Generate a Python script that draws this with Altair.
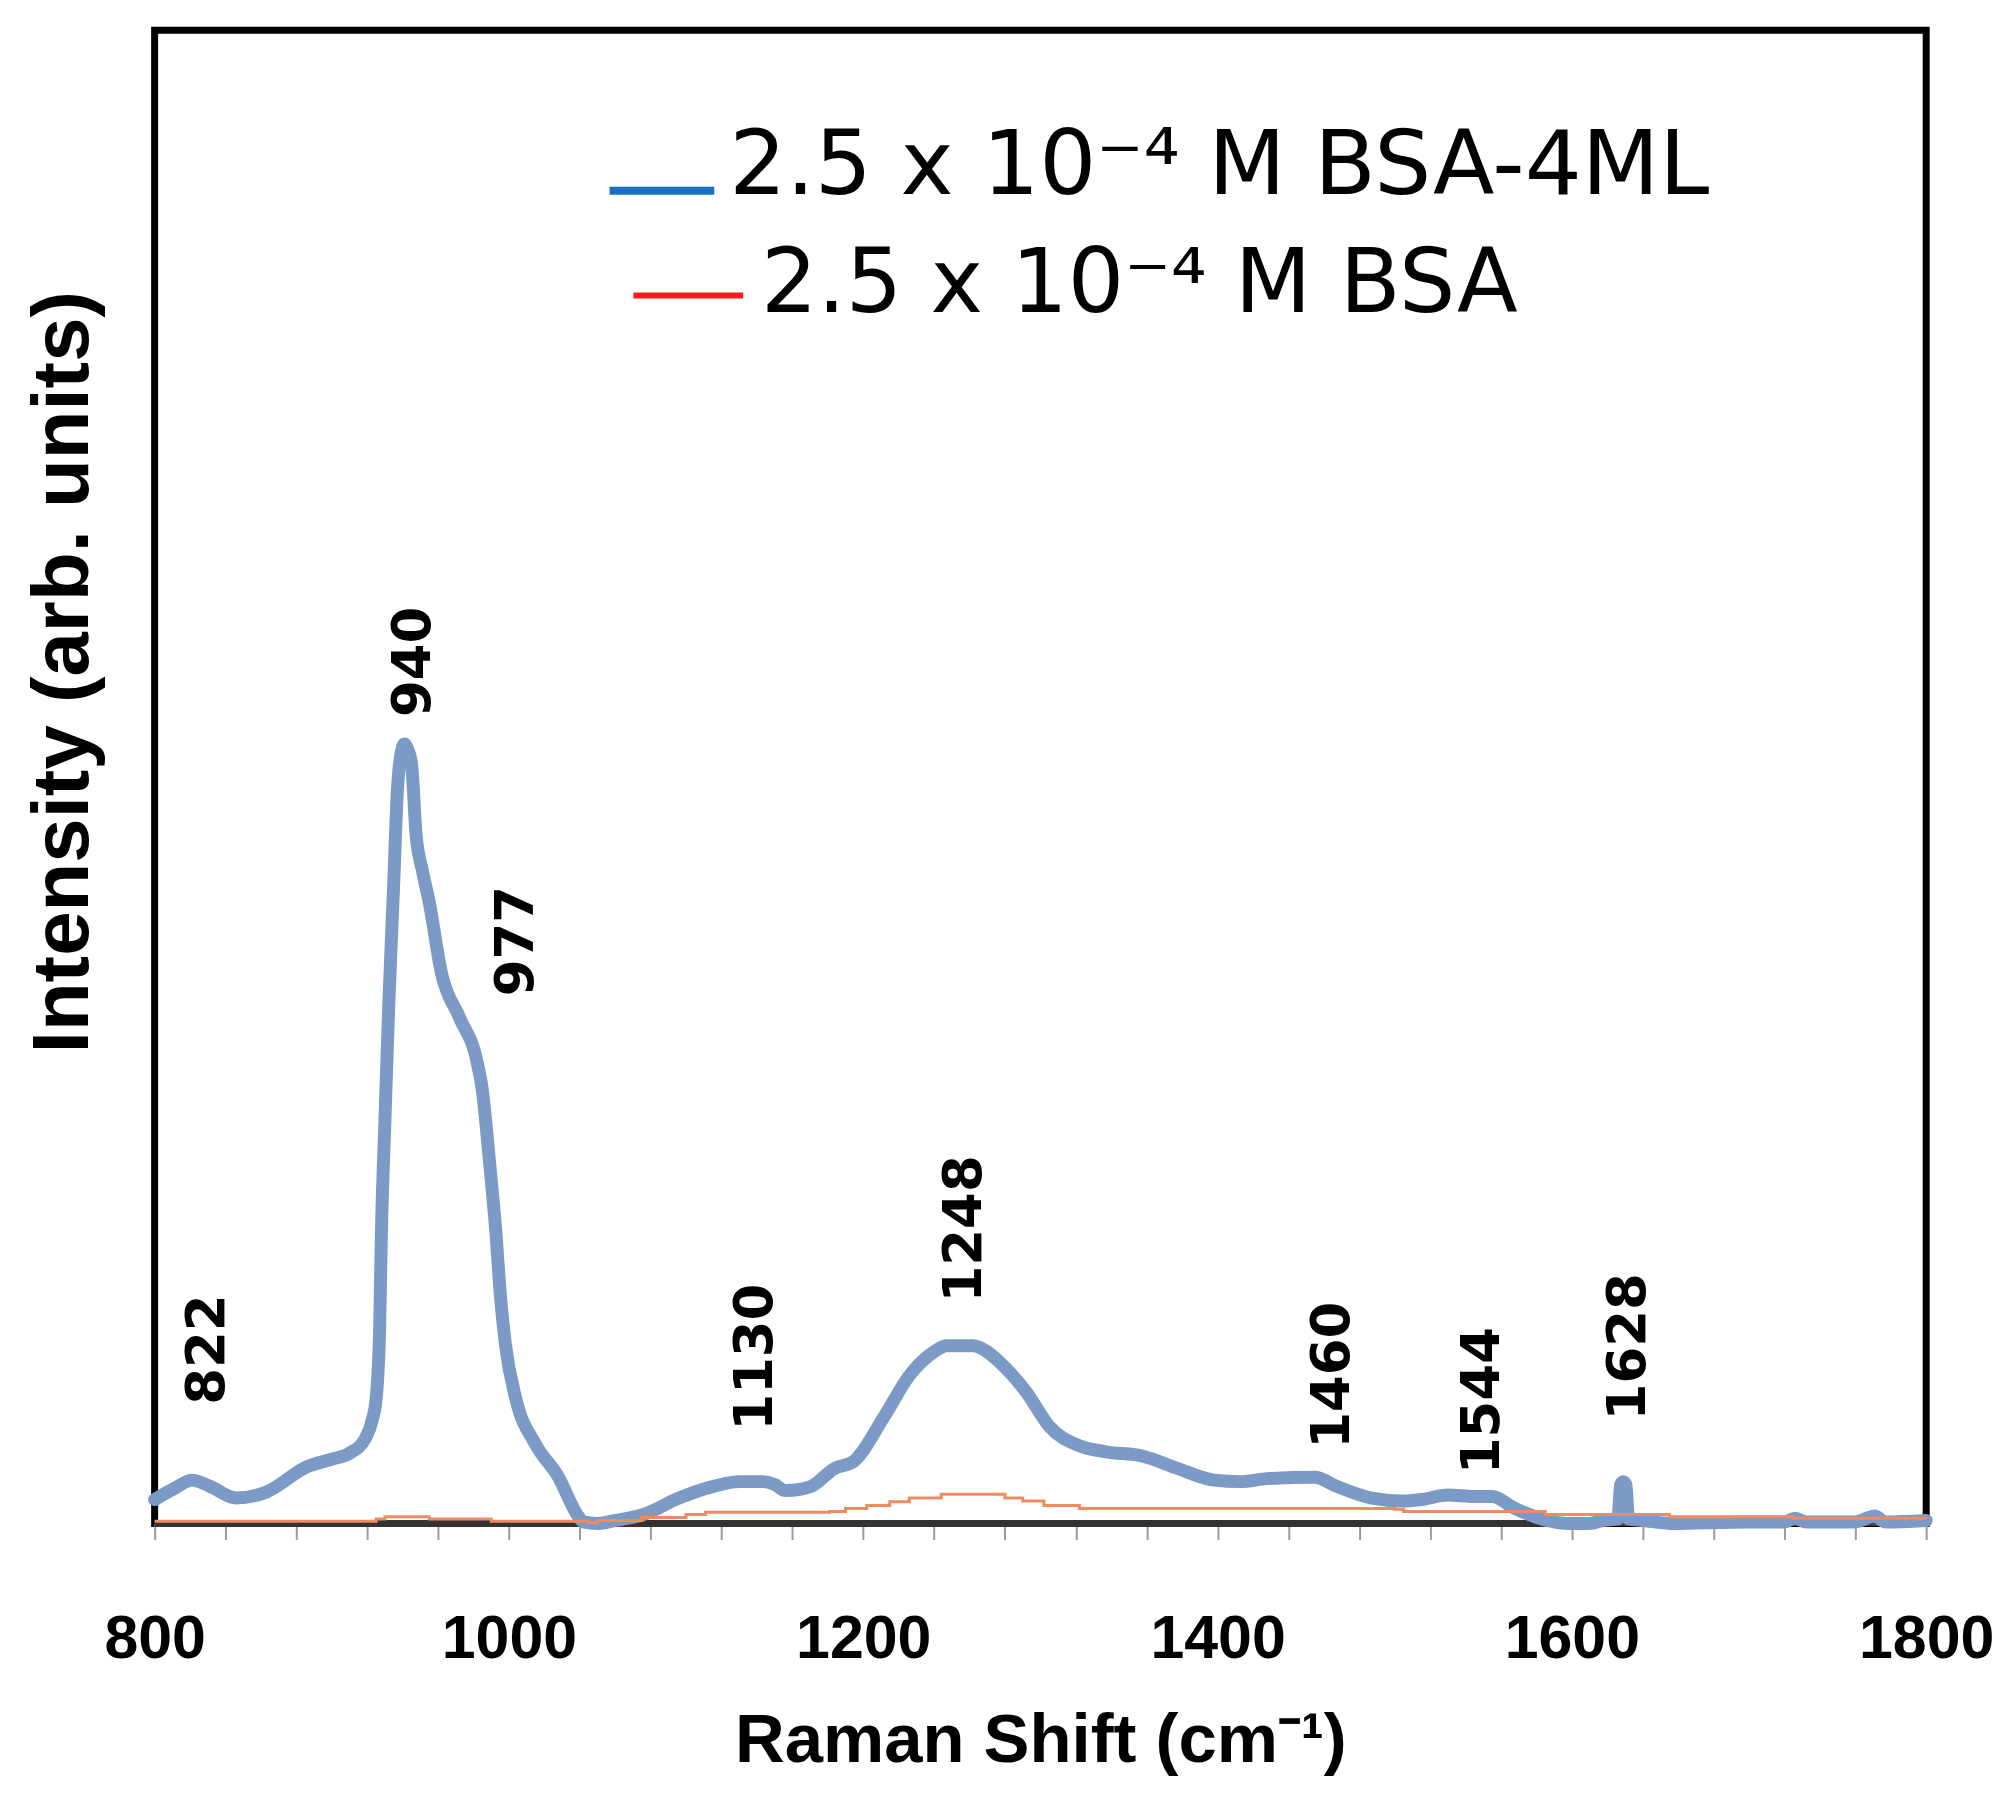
import altair as alt
import pandas as pd

# ---- data ----
blue_x = [800, 812, 821, 831, 846, 863, 886, 900, 910, 919, 923, 925, 927, 928, 930, 932, 935, 937, 939, 941,
          943, 945, 947.6, 951, 955, 962, 972, 982, 985, 987, 990, 992.7, 995, 998, 1004, 1015, 1028, 1039,
          1042, 1050, 1060, 1076, 1096, 1116, 1130, 1143, 1150, 1156, 1165, 1171, 1184, 1194, 1212, 1226,
          1240, 1247, 1262, 1270, 1277, 1292, 1305, 1322, 1337, 1358, 1377, 1398, 1413, 1428, 1455, 1467,
          1487, 1505, 1515, 1530, 1545, 1555, 1568, 1583, 1598, 1610, 1618, 1626, 1627.5, 1629, 1630.5,
          1632, 1640, 1656, 1700, 1720, 1726, 1732, 1760, 1771, 1777, 1800]
blue_y = [1.6, 2.4, 2.9, 2.5, 1.7, 2.1, 3.8, 4.3, 4.7, 5.7, 7.0, 8.3, 13, 19.4, 27, 34.2, 43, 49, 51.5, 52.2,
          51.8, 50.9, 46.1, 43.8, 41.6, 36.8, 33.9, 30.9, 29, 26.8, 23, 19.4, 15.5, 12.0, 8.3, 5.3, 3.1, 0.5,
          0.1, 0.0, 0.2, 0.6, 1.7, 2.5, 2.8, 2.8, 2.6, 2.2, 2.3, 2.5, 3.7, 4.1, 7.2, 9.9,
          11.5, 11.9, 11.9, 11.5, 10.8, 8.8, 6.5, 5.2, 4.8, 4.5, 3.7, 2.9, 2.8, 3.0, 3.1, 2.5,
          1.7, 1.5, 1.6, 1.9, 1.8, 1.8, 1.0, 0.3, 0.0, 0.0, 0.2, 0.3, 2.6, 2.8, 2.6,
          0.3, 0.2, 0.0, 0.1, 0.1, 0.35, 0.1, 0.1, 0.5, 0.1, 0.2]

orange_x = [800, 918, 925, 930, 950, 955, 985, 990, 1040, 1045, 1050, 1075, 1100, 1111, 1181, 1190, 1202,
            1215, 1226, 1244, 1267, 1280, 1290, 1302, 1322, 1500, 1505, 1580, 1585, 1650, 1655, 1720, 1725, 1800]
orange_y = [0.15, 0.15, 0.3, 0.45, 0.45, 0.3, 0.3, 0.15, 0.15, 0.05, 0.2, 0.4, 0.6, 0.75, 0.8, 1.0, 1.2,
            1.45, 1.7, 1.95, 1.95, 1.7, 1.5, 1.2, 1.0, 0.95, 0.8, 0.8, 0.6, 0.6, 0.45, 0.45, 0.35, 0.3]

base_x = [800, 1590]
base_y = [0, 0]

peak_labels = ["822", "940", "977", "1130", "1248", "1460", "1544", "1628"]
peak_label_x = [829.9, 946.5, 1004.5, 1139.7, 1257.5, 1465.4, 1549.9, 1632]
peak_label_y = [7.95, 54.0, 35.3, 6.2, 14.8, 5.0, 3.3, 6.9]

legend_labels = ["2.5 x 10\u207b\u2074 M BSA-4ML", "2.5 x 10\u207b\u2074 M BSA"]

x_ticks = list(range(800, 1801, 40))

# ---- chart ----
df_blue = pd.DataFrame({"x": blue_x, "y": blue_y})
df_orange = pd.DataFrame({"x": orange_x, "y": orange_y})
df_base = pd.DataFrame({"x": base_x, "y": base_y})
df_peaks = pd.DataFrame({"x": peak_label_x, "y": peak_label_y, "t": peak_labels})

xscale = alt.Scale(domain=[800, 1800], nice=False, zero=False)
yscale = alt.Scale(domain=[0, 100], nice=False)

xaxis = alt.Axis(
    values=x_ticks,
    labelExpr="datum.value % 200 === 0 ? datum.label : ''",
    format="d",
    labelFont="Liberation Sans",
    labelFontSize=61,
    labelFontWeight="bold",
    labelColor="black",
    labelBaseline="alphabetic",
    labelPadding=118,
    labelFlush=False,
    labelOverlap=False,
    tickColor="#9a9a9a",
    tickWidth=2,
    tickSize=16,
    domainColor="#444444",
    domainWidth=4,
    grid=False,
    title="Raman Shift (cm\u207b\u00b9)",
    titleFont="Liberation Sans",
    titleFontSize=69,
    titleFontWeight="bold",
    titleColor="black",
    titleY=239,
    titleBaseline="alphabetic",
)

yaxis = alt.Axis(
    labels=False, ticks=False, domain=False, grid=False,
    title="Intensity (arb. units)",
    titleFont="Liberation Sans",
    titleFontSize=80,
    titleFontWeight="bold",
    titleColor="black",
    titleAngle=270,
    titleX=-91,
    titleY=643,
    titleAlign="center",
    titleBaseline="middle",
)

base = alt.Chart(df_base).mark_line(color="#333333", strokeWidth=7).encode(
    x=alt.X("x:Q", scale=xscale, axis=xaxis),
    y=alt.Y("y:Q", scale=yscale, axis=yaxis),
)

blue = alt.Chart(df_blue).mark_line(color="#7b9bc6", strokeWidth=13, strokeJoin="round", strokeCap="round",
                                    interpolate="monotone").encode(
    x=alt.X("x:Q", scale=xscale),
    y=alt.Y("y:Q", scale=yscale),
)

orange = alt.Chart(df_orange).mark_line(color="#ef8b63", strokeWidth=3, interpolate="step-after").encode(
    x=alt.X("x:Q", scale=xscale),
    y=alt.Y("y:Q", scale=yscale),
)

peaks = alt.Chart(df_peaks).mark_text(
    font="DejaVu Sans", fontSize=53, fontWeight="bold", color="black",
    angle=270, align="left", baseline="middle",
).encode(
    x=alt.X("x:Q", scale=xscale),
    y=alt.Y("y:Q", scale=yscale),
    text="t:N",
)

leg_rule1 = alt.Chart(pd.DataFrame({"a": [0]})).mark_rule(color="#1a6fc4", strokeWidth=8).encode(
    x=alt.value(456), x2=alt.value(561), y=alt.value(161))
leg_rule2 = alt.Chart(pd.DataFrame({"a": [0]})).mark_rule(color="#ff1a1a", strokeWidth=6).encode(
    x=alt.value(480), x2=alt.value(590), y=alt.value(266))
leg_text1 = alt.Chart(pd.DataFrame({"t": [legend_labels[0]]})).mark_text(
    font="DejaVu Sans", fontSize=90, color="black", align="left", baseline="alphabetic").encode(
    x=alt.value(576), y=alt.value(164), text="t:N")
leg_text2 = alt.Chart(pd.DataFrame({"t": [legend_labels[1]]})).mark_text(
    font="DejaVu Sans", fontSize=89, color="black", align="left", baseline="alphabetic").encode(
    x=alt.value(608), y=alt.value(283), text="t:N")

chart = alt.layer(base, blue, orange, peaks, leg_rule1, leg_rule2, leg_text1, leg_text2).properties(
    width=1776,
    height=1497,
    padding={"left": 147, "top": 20, "right": 70, "bottom": 270},
    autosize="none",
    background="white",
).configure_view(
    stroke="black", strokeWidth=7
)

chart.save("out.html", embed_options={"renderer": "svg", "actions": False})
